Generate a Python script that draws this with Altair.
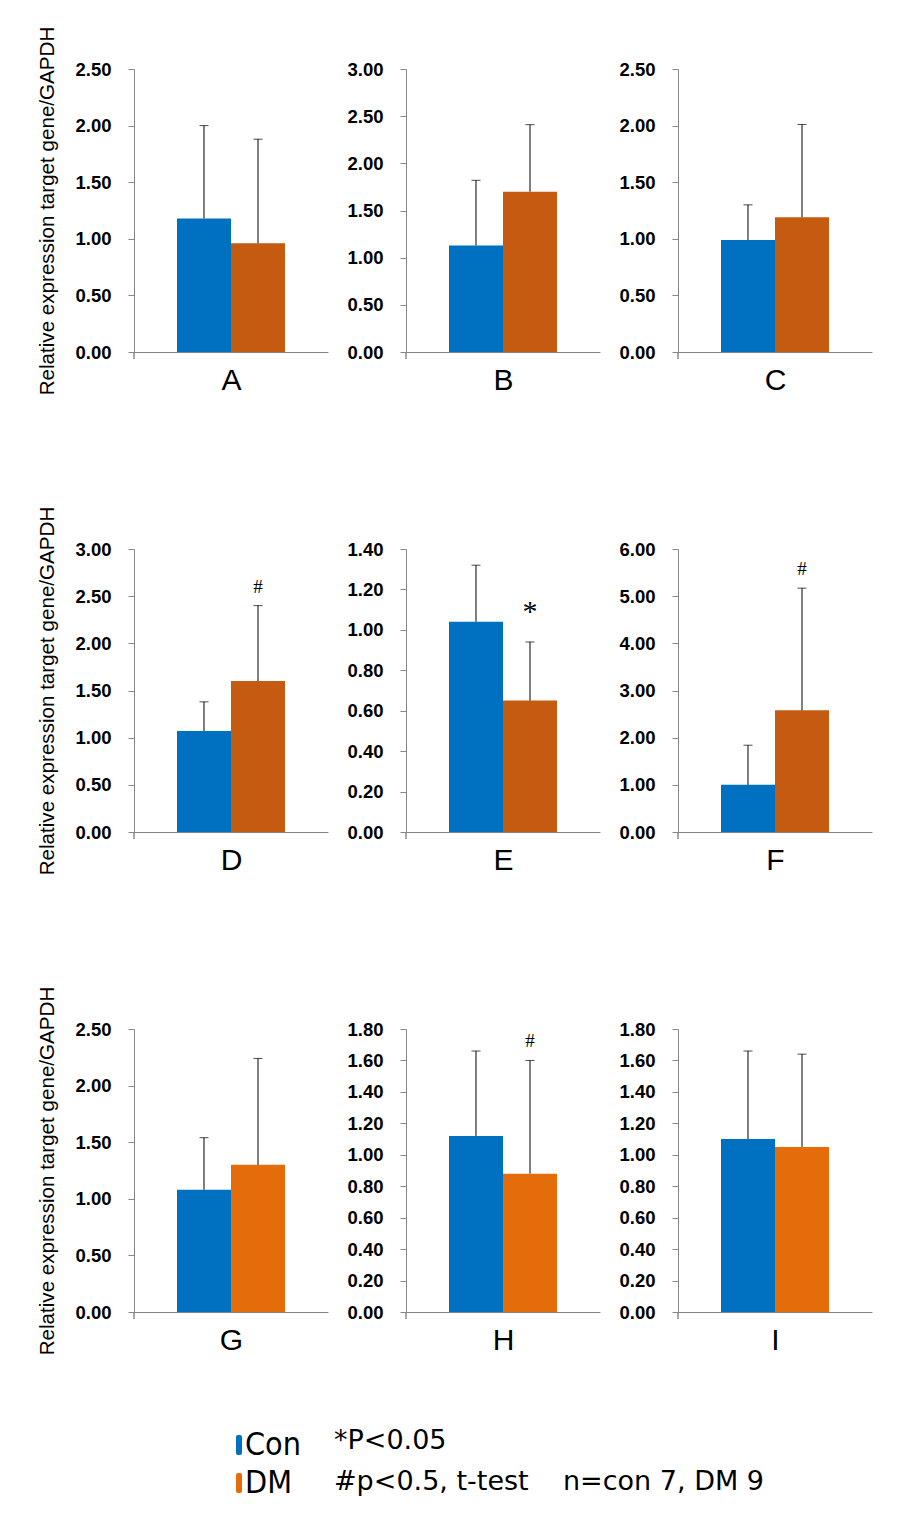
import altair as alt
import pandas as pd

# ---------------- data ----------------
panels = ["A", "B", "C", "D", "E", "F", "G", "H", "I"]
groups = ["Con", "DM"]
con_mean = [1.18, 1.13, 0.99, 1.07, 1.04, 1.00, 1.08, 1.12, 1.10]
con_sd = [0.82, 0.69, 0.31, 0.31, 0.28, 0.84, 0.46, 0.54, 0.56]
dm_mean = [0.96, 1.70, 1.19, 1.60, 0.65, 2.58, 1.30, 0.88, 1.05]
dm_sd = [0.92, 0.71, 0.82, 0.80, 0.29, 2.59, 0.94, 0.72, 0.59]
y_max = [2.5, 3.0, 2.5, 3.0, 1.4, 6.0, 2.5, 1.8, 1.8]
y_step = [0.5, 0.5, 0.5, 0.5, 0.2, 1.0, 0.5, 0.2, 0.2]
sig_marks = ["", "", "", "#", "*", "#", "", "#", ""]

legend_labels = ["Con", "DM"]
notes = ["*P<0.05", "#p<0.5, t-test\u00a0\u00a0\u00a0 n=con 7, DM 9"]
y_title = "Relative expression target gene/GAPDH"

# ---------------- style ----------------
BLUE = "#0070C0"
ORANGE_DARK = "#C55A11"
ORANGE_LIGHT = "#E46C0A"
dm_colors = [ORANGE_DARK] * 6 + [ORANGE_LIGHT] * 3
AXIS_GRAY = "#868686"
W, H = 194, 283
SANS = "Liberation Sans, Arial, sans-serif"
LEG_COND = "DejaVu Sans Condensed, DejaVu Sans, sans-serif"
LEG_FONT = "DejaVu Sans, Verdana, sans-serif"
mark_style = {"#": dict(font="Liberation Serif", fontSize=19, dy=-19),
              "*": dict(font="Liberation Serif", fontSize=30, dy=-30)}


def panel(i, first_col):
    df = pd.DataFrame({
        "group": groups,
        "mean": [con_mean[i], dm_mean[i]],
        "top": [con_mean[i] + con_sd[i], dm_mean[i] + dm_sd[i]],
        "fill": [BLUE, dm_colors[i]],
    })
    n_ticks = int(round(y_max[i] / y_step[i]))
    ticks = [round(k * y_step[i], 2) for k in range(n_ticks + 1)]

    yaxis_kw = dict(values=ticks, tickCount=len(ticks), format=".2f", grid=False,
                    labelFont=SANS, labelFontWeight="bold", labelFontSize=18.5,
                    labelColor="black", labelPadding=17, tickSize=6,
                    labelOverlap=False,
                    tickColor=AXIS_GRAY, domainColor=AXIS_GRAY,
                    minExtent=60, maxExtent=60)
    if first_col:
        yaxis_kw.update(title=y_title, titleFont=SANS, titleFontSize=20.6,
                        titleFontWeight="normal", titleColor="black",
                        titlePadding=17)
    else:
        yaxis_kw.update(title="")

    xenc = alt.X("group:N",
                 scale=alt.Scale(domain=groups, paddingInner=0, paddingOuter=0.796),
                 axis=alt.Axis(labels=False, ticks=False, domainColor=AXIS_GRAY,
                               title=panels[i], titleFont=SANS, titleFontSize=30,
                               titleFontWeight="normal", titleColor="black",
                               titlePadding=13, minExtent=0, maxExtent=0))
    yscale = alt.Scale(domain=[0, y_max[i]], nice=False, zero=True)

    base = alt.Chart(df)
    bars = base.mark_bar().encode(
        x=xenc,
        y=alt.Y("mean:Q", scale=yscale, axis=alt.Axis(**yaxis_kw)),
        color=alt.Color("fill:N", scale=None),
    )
    err = base.mark_rule(color="black", strokeWidth=1).encode(
        x="group:N", y="mean:Q", y2="top:Q")
    cap = base.mark_tick(color="black", thickness=1, size=9, orient="horizontal").encode(
        x="group:N", y="top:Q")
    ext = base.mark_rule(color=AXIS_GRAY, strokeWidth=1).encode(
        x=alt.value(0), y=alt.value(H), y2=alt.value(H + 7))
    layers = [bars, err, cap, ext]
    if sig_marks[i]:
        st = mark_style[sig_marks[i]]
        sdf = pd.DataFrame({"group": ["DM"], "top": [dm_mean[i] + dm_sd[i]],
                            "sig": [sig_marks[i]]})
        layers.append(alt.Chart(sdf).mark_text(baseline="middle", color="black", **st).encode(
            x="group:N", y="top:Q", text="sig:N"))
    return alt.layer(*layers).properties(width=W, height=H)


rows = []
for r in range(3):
    rows.append(alt.hconcat(*[panel(r * 3 + c, c == 0) for c in range(3)], spacing=18))
grid = alt.vconcat(*rows, spacing=111)

# ---------------- legend / notes ----------------
leg_layers = []
sq_colors = [BLUE, ORANGE_LIGHT]
for k, lab in enumerate(legend_labels):
    yc = 21 + 38 * k
    ldf = pd.DataFrame({"label": [lab], "note": [notes[k]]})
    leg_layers.append(alt.Chart(ldf).mark_rect(color=sq_colors[k], cornerRadius=2).encode(
        x=alt.value(102), x2=alt.value(108), y=alt.value(yc - 10), y2=alt.value(yc + 10)))
    leg_layers.append(alt.Chart(ldf).mark_text(align="left", baseline="middle", font=LEG_COND,
                                               fontSize=32, color="black").encode(
        x=alt.value(111), y=alt.value(yc), text="label:N"))
    leg_layers.append(alt.Chart(ldf).mark_text(align="left", baseline="middle", font=LEG_FONT,
                                               fontSize=27, color="black").encode(
        x=alt.value(200), y=alt.value(yc - 4 if k == 0 else yc - 1), text="note:N"))
legend = alt.layer(*leg_layers).properties(width=700, height=85)

chart = alt.vconcat(grid, legend, spacing=69).properties(
    padding={"left": 28, "top": 18, "right": 5, "bottom": 5}
).configure_view(stroke=None)

chart.save("out.html", embed_options={"renderer": "svg", "actions": False})
